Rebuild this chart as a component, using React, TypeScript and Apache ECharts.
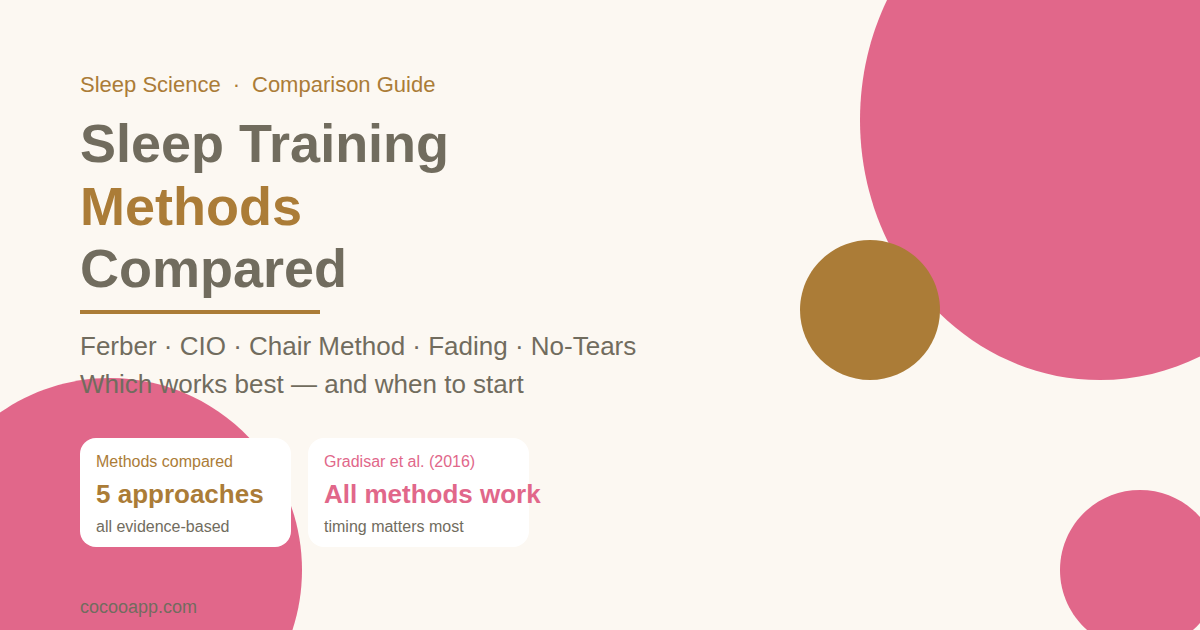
import React, { useEffect, useRef } from 'react';
import * as echarts from 'echarts';

// texts of the card
const kickerParts = ['Sleep Science', '·', 'Comparison Guide'];
const titleLines = ['Sleep Training', 'Methods', 'Compared'];
const methodNames = ['Ferber', 'CIO', 'Chair Method', 'Fading', 'No-Tears'];
const tagline = 'Which works best — and when to start';
const statLabels = ['Methods compared', 'Gradisar et al. (2016)'];
const statValues = ['5 approaches', 'All methods work'];
const statNotes = ['all evidence-based', 'timing matters most'];
const footer = 'cocooapp.com';

const BG = '#fcf8f2';
const PINK = '#e1678a';
const BROWN = '#ab7c37';
const GRAY = '#716c5e';
const FONT = '"Liberation Sans", Arial, Helvetica, sans-serif';

// y is the alphabetic baseline, converted to a middle anchor
const txt = (
  text: string,
  x: number,
  baseline: number,
  size: number,
  fill: string,
  weight: string = 'normal',
  align: string = 'left'
) => ({
  type: 'text',
  z: 10,
  style: {
    text,
    x,
    y: baseline - size * 0.35,
    fill,
    fontSize: size,
    fontWeight: weight,
    fontFamily: FONT,
    textAlign: align,
    textVerticalAlign: 'middle'
  }
});

const blob = (cx: number, cy: number, rx: number, ry: number, fill: string) => ({
  type: 'ellipse',
  z: 1,
  shape: { cx, cy, rx, ry },
  style: { fill }
});

const App: React.FC = () => {
  const chartRef = useRef<HTMLDivElement>(null);

  useEffect(() => {
    if (!chartRef.current) return;
    const chart = echarts.init(chartRef.current, null, { renderer: 'svg' });

    const cardX = [80, 308];
    const cardW = [211, 221];

    const graphic: any[] = [
      blob(1100, 120, 240, 260, PINK),
      blob(870, 310, 70, 70, BROWN),
      blob(110, 570, 192, 192, PINK),
      blob(1140, 570, 80, 80, PINK),

      txt(kickerParts[0], 80, 92, 22, BROWN),
      txt(kickerParts[1], 236.5, 92, 22, BROWN, 'normal', 'center'),
      txt(kickerParts[2], 252, 92, 22, BROWN),

      txt(titleLines[0], 80, 162, 54, GRAY, 'bold'),
      txt(titleLines[1], 80, 224.5, 54, BROWN, 'bold'),
      txt(titleLines[2], 80, 287, 54, GRAY, 'bold'),
      {
        type: 'rect',
        z: 10,
        shape: { x: 80, y: 310, width: 240, height: 4 },
        style: { fill: BROWN }
      },

      txt(methodNames.join(' · '), 80, 355.5, 26, GRAY),
      txt(tagline, 80, 393, 26, GRAY),

      txt(footer, 80, 613, 18, GRAY)
    ];

    cardX.forEach((x, i) => {
      const accent = i === 0 ? BROWN : PINK;
      graphic.push({
        type: 'rect',
        z: 5,
        shape: { x, y: 438, width: cardW[i], height: 109, r: 16 },
        style: { fill: '#ffffff' }
      });
      graphic.push(txt(statLabels[i], x + 16, 467, 16, accent));
      graphic.push(txt(statValues[i], x + 16, 503.5, 26, accent, 'bold'));
      graphic.push(txt(statNotes[i], x + 16, 532.5, 16, GRAY));
    });

    chart.setOption({
      animation: false,
      backgroundColor: BG,
      graphic
    });

    return () => {
      chart.dispose();
    };
  }, []);

  return (
    <div
      ref={chartRef}
      style={{ position: 'fixed', left: 0, top: 0, width: '1200px', height: '630px' }}
    />
  );
};

export default App;
